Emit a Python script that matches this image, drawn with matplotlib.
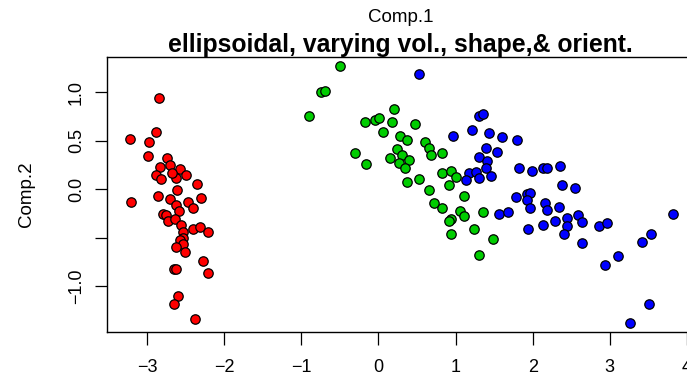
import matplotlib
matplotlib.use("Agg")
import matplotlib.pyplot as plt

plt.rcParams['font.family'] = ['Liberation Sans', 'DejaVu Sans']

# cluster 1 (red)
red_x = [-2.85, -3.22, -2.88, -2.98, -2.99, -2.74, -2.84, -2.71, -2.58, -2.63,
         -2.89, -2.82, -2.50, -2.68, -2.36, -2.61, -2.86, -3.21, -2.70, -2.47,
         -2.30, -2.40, -2.62, -2.59, -2.80, -2.76, -2.73, -2.64, -2.56, -2.41,
         -2.31, -2.21, -2.54, -2.54, -2.58, -2.54, -2.63, -2.51, -2.28, -2.21,
         -2.65, -2.62, -2.60, -2.65, -2.38]
red_y = [0.94, 0.52, 0.59, 0.49, 0.34, 0.32, 0.23, 0.25, 0.21, 0.12,
         0.15, 0.10, 0.15, 0.17, 0.05, -0.01, -0.07, -0.13, -0.10, -0.13,
         -0.09, -0.19, -0.16, -0.23, -0.26, -0.27, -0.33, -0.31, -0.37, -0.41,
         -0.39, -0.44, -0.44, -0.50, -0.52, -0.57, -0.60, -0.65, -0.74, -0.87,
         -0.82, -0.82, -1.10, -1.18, -1.34]

# cluster 2 (green)
green_x = [-0.50, -0.74, -0.70, -0.90, 0.20, -0.18, -0.05, 0.01, 0.18, 0.48,
           0.06, 0.28, 0.37, 0.60, 0.66, 0.68, 0.83, -0.30, -0.16, 0.24,
           0.31, 0.15, 0.26, 0.40, 0.35, 0.37, 0.53, 0.83, 0.94, 1.01,
           0.91, 0.66, 1.11, 0.72, 0.82, 1.06, 1.11, 1.35, 0.94, 0.92,
           0.94, 1.24, 1.48, 1.30]
green_y = [1.27, 1.00, 1.01, 0.76, 0.83, 0.69, 0.71, 0.73, 0.69, 0.67,
           0.59, 0.55, 0.51, 0.49, 0.43, 0.35, 0.37, 0.37, 0.26, 0.41,
           0.35, 0.32, 0.27, 0.30, 0.22, 0.07, 0.11, 0.17, 0.19, 0.13,
           0.04, -0.01, -0.07, -0.14, -0.19, -0.23, -0.28, -0.24, -0.31, -0.33,
           -0.46, -0.41, -0.51, -0.68]

# cluster 3 (blue)
blue_x = [0.53, 1.31, 1.36, 1.21, 0.96, 1.43, 1.39, 1.31, 1.41, 1.40,
          1.18, 1.27, 1.30, 1.46, 1.13, 1.54, 1.60, 1.80, 1.56, 1.82,
          1.99, 2.14, 2.18, 2.35, 2.38, 2.55, 1.78, 1.93, 1.97, 1.92,
          1.97, 1.68, 2.16, 2.19, 2.34, 2.44, 2.59, 2.64, 2.29, 2.45,
          2.13, 1.94, 2.41, 2.64, 2.86, 2.96, 3.82, 3.53, 3.42, 3.10,
          2.94, 3.51, 3.26]
blue_y = [1.19, 0.76, 0.78, 0.61, 0.55, 0.58, 0.42, 0.33, 0.29, 0.22,
          0.17, 0.18, 0.12, 0.14, 0.09, 0.38, 0.54, 0.51, -0.26, 0.22,
          0.19, 0.22, 0.22, 0.24, 0.04, 0.01, -0.08, -0.05, -0.04, -0.11,
          -0.19, -0.24, -0.14, -0.21, -0.18, -0.30, -0.27, -0.34, -0.33, -0.38,
          -0.37, -0.41, -0.46, -0.56, -0.38, -0.35, -0.26, -0.46, -0.55, -0.69,
          -0.78, -1.18, -1.38]

xticks = [-3, -2, -1, 0, 1, 2, 3, 4]
yticks = [-1.0, -0.5, 0.0, 0.5, 1.0]
ytick_labels = ['\u22121.0', '', '0.0', '0.5', '1.0']

fig = plt.figure(figsize=(6.87, 3.76), dpi=100)
ax = fig.add_axes([107 / 687, 44 / 376, 587 / 687, 275 / 376])

pt = dict(s=46, edgecolors='black', linewidths=0.9, zorder=3)
ax.scatter(red_x, red_y, c='#ff0000', **pt)
ax.scatter(green_x, green_y, c='#00cd00', **pt)
ax.scatter(blue_x, blue_y, c='#0000ff', **pt)

ax.set_xlim(-3.521, 4.092)
ax.set_ylim(-1.474, 1.364)

ax.set_xticks(xticks)
ax.set_xticklabels(['\u2212' + str(-t) if t < 0 else str(t) for t in xticks])
ax.set_yticks(yticks)
ax.set_yticklabels(ytick_labels, rotation=90, va='center')

ax.tick_params(direction='out', length=9, width=0.9, labelsize=13, colors='black')
ax.tick_params(axis='x', pad=10.5)
ax.tick_params(axis='y', pad=7)
for s in ax.spines.values():
    s.set_linewidth(1.0)
    s.set_color('black')

fig.text(400.5 / 687, 1 - 17 / 376, 'Comp.1', ha='center', va='center', fontsize=13.5)
fig.text(400.5 / 687, 1 - 52 / 376, 'ellipsoidal, varying vol., shape,& orient.',
         ha='center', va='baseline', fontsize=17.8, fontweight='bold')
fig.text(27 / 687, 1 - 194 / 376, 'Comp.2', ha='center', va='center',
         rotation=90, fontsize=13.5)

fig.savefig('out.png', dpi=100)
